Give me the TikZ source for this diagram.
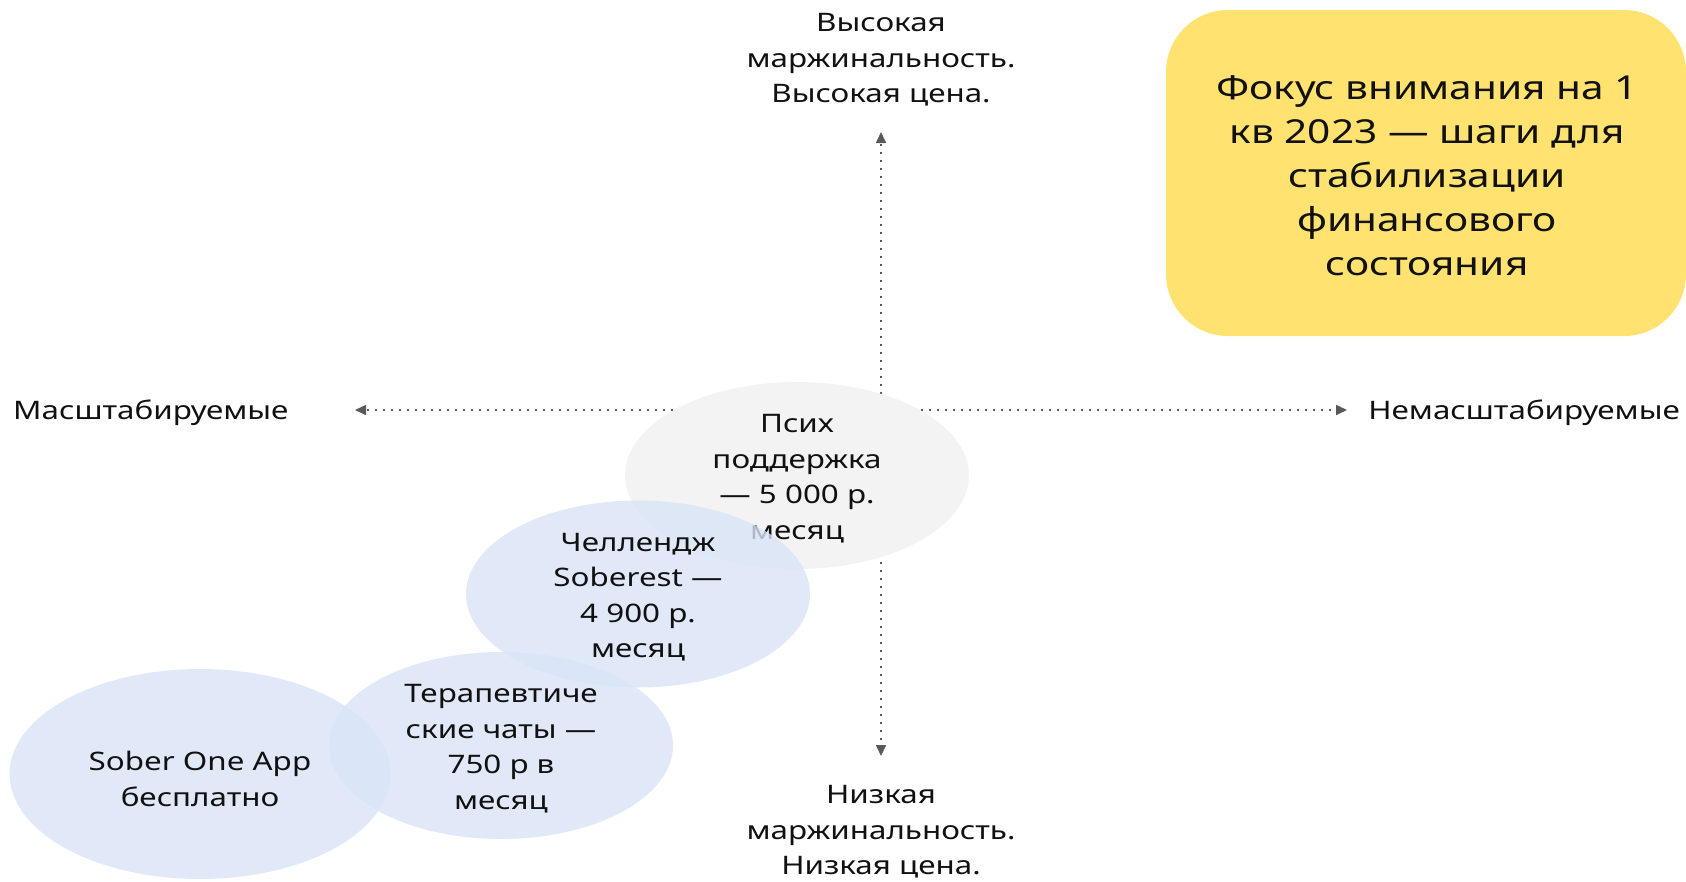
\documentclass[tikz,border=0pt]{standalone}
\usepackage{fontspec}
\setmainfont{Noto Sans}[FakeStretch=1.23]
\usetikzlibrary{arrows.meta,shapes.geometric}
\definecolor{axisgray}{HTML}{595959}
\definecolor{ellgray}{HTML}{F3F3F3}
\definecolor{ellblue}{HTML}{D9E4F7}
\definecolor{focusyellow}{HTML}{FFE270}
\definecolor{txt}{HTML}{111111}
\begin{document}
\begin{tikzpicture}[x=1pt,y=-1pt,
  lbl/.style={font=\fontsize{25.5}{35.5}\selectfont, align=center, text=txt, inner sep=0pt},
  axisline/.style={draw=axisgray, line width=1.6pt, dash pattern=on 1.6pt off 6.4pt, -{Triangle[length=11pt,width=10pt]}},
  grayell/.style={ellipse, fill=ellgray, minimum width=344pt, minimum height=187pt, inner sep=0pt},
  blueell/.style={ellipse, fill=ellblue, fill opacity=0.8, minimum width=344pt, minimum height=187pt, inner sep=0pt},
  focusbox/.style={align=center, text=txt, font=\fontsize{33}{44}\selectfont, inner sep=0pt}
]
\useasboundingbox (0,0) rectangle (1686,881);
% axes
\coordinate (ctr) at (881,410);
\coordinate (topend) at (881,132);
\coordinate (botend) at (881,756);
\coordinate (leftend) at (355,410);
\coordinate (rightend) at (1347,410);
\draw[axisline] (ctr) -- (topend);
\draw[axisline] (ctr) -- (botend);
\draw[axisline] (ctr) -- (leftend);
\draw[axisline] (ctr) -- (rightend);
% axis labels
\node[lbl] (hi) at (881,60) {Высокая\\маржинальность.\\Высокая цена.};
\node[lbl] (lo) at (881,832) {Низкая\\маржинальность.\\Низкая цена.};
\node[lbl, anchor=west] (scal) at (13,413) {Масштабируемые};
\node[lbl, anchor=east] (nscal) at (1680,413) {Немасштабируемые};
% focus box
\fill[focusyellow, rounded corners=62pt] (1166,10) rectangle (1686,336);
\node[focusbox] (focus) at (1427,176) {Фокус внимания на 1\\кв 2023 — шаги для\\стабилизации\\финансового\\состояния};
% ellipses
\node[grayell] (psy) at (797,475.5) {};
\node[lbl] (psytext) at (797,478.5) {Псих\\поддержка\\— 5 000 р.\\месяц};
\node[blueell] (chal) at (638,594) {};
\node[lbl] (chaltext) at (638,597) {Челлендж\\Soberest —\\4 900 р.\\месяц};
\node[blueell, minimum width=381pt, minimum height=210pt] (sober) at (200,774) {};
\node[lbl] (sobertext) at (200,779) {Sober One App\\бесплатно};
\node[blueell] (ther) at (501,745.5) {};
\node[lbl] (thertext) at (501,748.5) {Терапевтиче\\ские чаты —\\750 р в\\месяц};
\end{tikzpicture}
\end{document}
